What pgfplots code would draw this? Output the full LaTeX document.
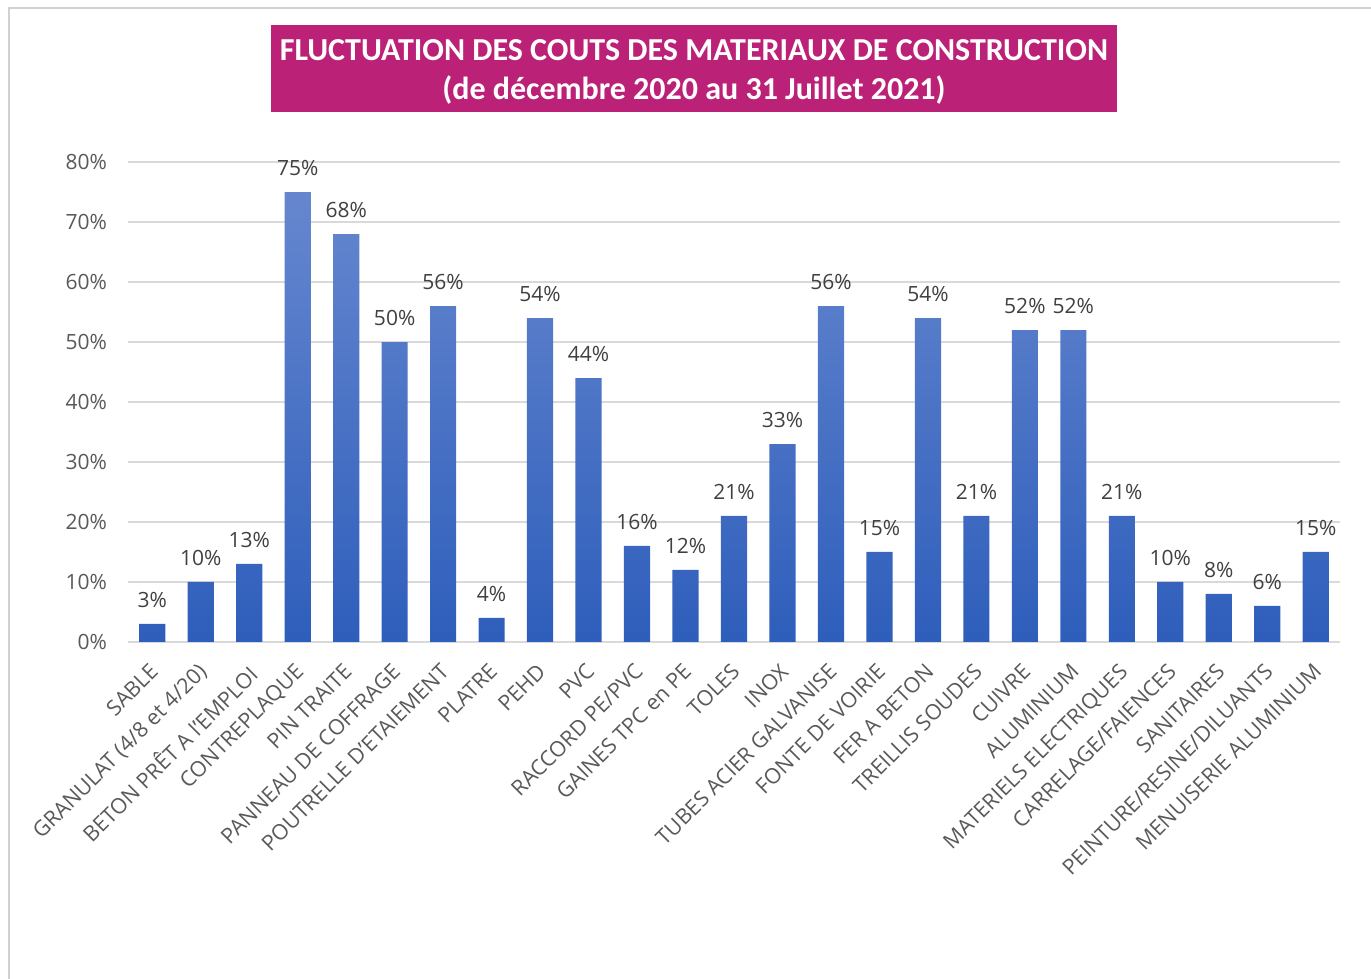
\documentclass[border=0pt]{standalone}
\usepackage{pgfplots}
\pgfplotsset{compat=1.18}
\usepackage{fontspec}
\setmainfont{Open Sans}
\newfontfamily\titlefont{Carlito}
\definecolor{titlebg}{RGB}{188,33,120}
\definecolor{barTop}{RGB}{102,135,207}
\definecolor{barBot}{RGB}{46,94,187}
\definecolor{txt}{RGB}{89,89,89}
\definecolor{lbl}{RGB}{64,64,64}
\begin{document}
\begin{tikzpicture}
\useasboundingbox (0,0) rectangle (685.5pt,489.5pt);
\draw[black!18, line width=1pt] (4.5pt,-2pt) -- (4.5pt,485.5pt) -- (690pt,485.5pt);
\node[fill=titlebg, minimum width=423pt, minimum height=43.5pt, inner sep=0pt]
  at (347pt,455.25pt) {};
\node[text=white, align=center,
  font=\titlefont\bfseries\fontsize{16}{19.5}\selectfont, inner sep=0pt]
  at (347pt,453.5pt) {FLUCTUATION DES COUTS DES MATERIAUX DE CONSTRUCTION\\(de décembre 2020 au 31 Juillet 2021)};
\begin{axis}[
  at={(64pt,168.5pt)}, anchor=south west,
  scale only axis, width=606pt, height=240pt,
  xmin=-0.5, xmax=24.5, ymin=0, ymax=80,
  ytick={0,10,...,80},
  yticklabel={\pgfmathprintnumber{\tick}\%},
  /pgf/number format/assume math mode=true,
  xtick={0,...,24},
  xticklabels={SABLE,GRANULAT (4/8 et 4/20),BETON PRÊT A l'EMPLOI,CONTREPLAQUE,PIN TRAITE,PANNEAU DE COFFRAGE,POUTRELLE D'ETAIEMENT,PLATRE,PEHD,PVC,RACCORD PE/PVC,GAINES TPC en PE,TOLES,INOX,TUBES ACIER GALVANISE,FONTE DE VOIRIE,FER A BETON,TREILLIS SOUDES,CUIVRE,ALUMINIUM,MATERIELS ELECTRIQUES,CARRELAGE/FAIENCES,SANITAIRES,PEINTURE/RESINE/DILUANTS,MENUISERIE ALUMINIUM},
  xticklabel style={rotate=45, anchor=north east, font=\fontsize{10.7}{12}\selectfont, text=txt, inner sep=0pt, xshift=-8.4pt, yshift=-5.6pt},
  yticklabel style={font=\fontsize{10.5}{12}\selectfont, text=txt, anchor=east, xshift=-7pt},
  axis line style={draw=none},
  major tick length=0pt,
  ymajorgrids, grid style={color=black!15, line width=1pt},
  clip=false,
]
\addplot[ybar, bar width=0.54, draw=none, top color=barTop, bottom color=barBot,
  nodes near coords={\pgfmathprintnumber{\pgfplotspointmeta}\%},
  every node near coord/.append style={font=\fontsize{10.5}{12}\selectfont, text=lbl, anchor=south, yshift=4.5pt}]
coordinates {
(0,3) (1,10) (2,13) (3,75) (4,68) (5,50) (6,56) (7,4) (8,54) (9,44)
(10,16) (11,12) (12,21) (13,33) (14,56) (15,15) (16,54) (17,21) (18,52) (19,52)
(20,21) (21,10) (22,8) (23,6) (24,15)
};
\end{axis}
\end{tikzpicture}
\end{document}
